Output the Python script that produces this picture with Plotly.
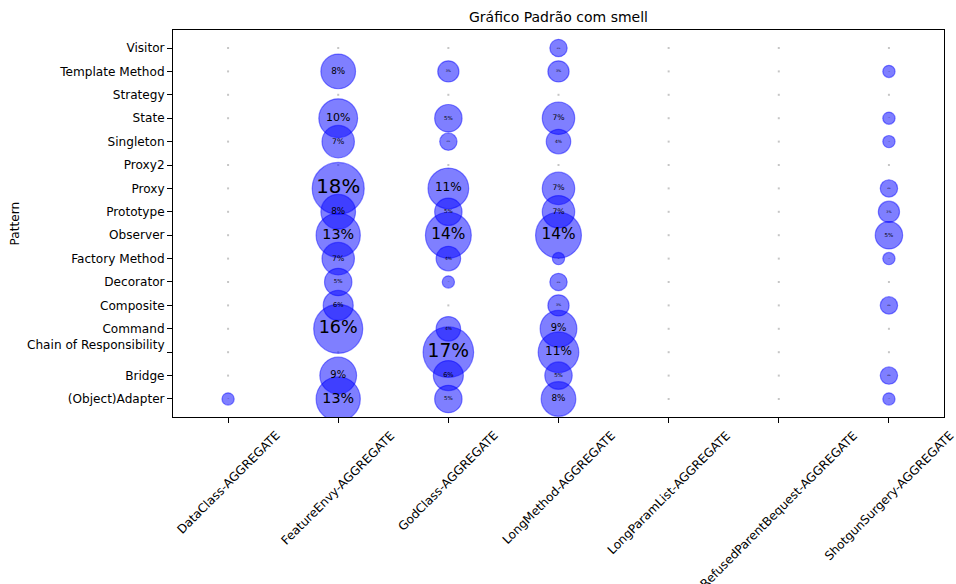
import plotly.graph_objects as go

# Code smells (columns) and design patterns (rows, bottom to top)
smells = [
    "DataClass-AGGREGATE",
    "FeatureEnvy-AGGREGATE",
    "GodClass-AGGREGATE",
    "LongMethod-AGGREGATE",
    "LongParamList-AGGREGATE",
    "RefusedParentBequest-AGGREGATE",
    "ShotgunSurgery-AGGREGATE",
]
patterns = [
    "(Object)Adapter",
    "Bridge",
    "Chain of Responsibility",
    "Command",
    "Composite",
    "Decorator",
    "Factory Method",
    "Observer",
    "Prototype",
    "Proxy",
    "Proxy2",
    "Singleton",
    "State",
    "Strategy",
    "Template Method",
    "Visitor",
]

# Percentage per pattern, one list per smell (same order as `patterns`)
data_class = [1, 0, 0, 0, 0, 0, 0, 0, 0, 0, 0, 0, 0, 0, 0, 0]
feature_envy = [13, 9, 0, 16, 6, 5, 7, 13, 8, 18, 0, 7, 10, 0, 8, 0]
god_class = [5, 6, 17, 4, 0, 1, 4, 14, 5, 11, 0, 2, 5, 0, 3, 0]
long_method = [8, 5, 11, 9, 3, 2, 1, 14, 7, 7, 0, 4, 7, 0, 3, 2]
long_param_list = [0] * 16
refused_parent_bequest = [0] * 16
shotgun_surgery = [1, 2, 0, 0, 2, 0, 1, 5, 3, 2, 0, 1, 1, 0, 1, 0]

columns = [data_class, feature_envy, god_class, long_method,
           long_param_list, refused_parent_bequest, shotgun_surgery]

xs, ys, vals = [], [], []
zx, zy = [], []
for i, col in enumerate(columns):
    for j, v in enumerate(col):
        if v > 0:
            xs.append(i)
            ys.append(j)
            vals.append(v)
        else:
            zx.append(i)
            zy.append(j)

LABEL_SIZE = 12.1

fig = go.Figure()

# empty cells: tiny marks
fig.add_trace(go.Scatter(
    x=zx, y=zy, mode="markers",
    marker=dict(size=2, color="rgba(160,160,160,0.6)", symbol="square",
                opacity=1, line=dict(width=0)),
    hoverinfo="skip", showlegend=False,
))

# bubbles: area proportional to the percentage
fig.add_trace(go.Scatter(
    x=xs, y=ys, mode="markers+text",
    marker=dict(
        size=vals, sizemode="area", sizeref=9 / 676, opacity=1,
        color="rgba(0,0,255,0.5)",
        line=dict(color="rgba(0,0,255,0.45)", width=1.2),
    ),
    text=[f"{v}%" for v in vals],
    textposition="middle center",
    textfont=dict(family="DejaVu Sans", color="black",
                  size=[max(1, v * 1.1) for v in vals]),
    showlegend=False,
))

ytext = [p if p != "Chain of Responsibility" else "Chain of Responsibility<br> "
         for p in patterns]

# rotated category labels, centred under each tick
for i, name in enumerate(smells):
    fig.add_annotation(
        x=i, y=-0.023, xref="x", yref="paper",
        text=name, textangle=-45, showarrow=False,
        xanchor="center", yanchor="top",
        font=dict(family="DejaVu Sans", size=LABEL_SIZE, color="black"),
    )

fig.add_annotation(
    x=-0.205, y=0.5, xref="paper", yref="paper",
    text="Pattern", textangle=-90, showarrow=False,
    xanchor="center", yanchor="middle",
    font=dict(family="DejaVu Sans", size=LABEL_SIZE, color="black"),
)

fig.update_layout(
    width=956, height=584,
    margin=dict(l=173, r=12, t=30, b=167),
    plot_bgcolor="white", paper_bgcolor="white",
    font=dict(family="DejaVu Sans", size=LABEL_SIZE, color="black"),
    title=dict(text="Gráfico Padrão com smell", x=(173 + 944) / 2 / 956,
               xanchor="center", y=1 - 17 / 584, yanchor="middle",
               font=dict(size=14)),
    xaxis=dict(
        range=[-0.5, 6.5], tickmode="array",
        tickvals=list(range(len(smells))), showticklabels=False,
        showgrid=False, zeroline=False, automargin=False,
        showline=True, mirror=True, linecolor="black", linewidth=1,
        ticks="outside", ticklen=5, tickcolor="black",
    ),
    yaxis=dict(
        range=[-0.77, 15.77], tickmode="array",
        tickvals=list(range(len(patterns))), ticktext=ytext,
        showgrid=False, zeroline=False, automargin=False,
        showline=True, mirror=True, linecolor="black", linewidth=1,
        ticks="outside", ticklen=5, tickcolor="black",
    ),
)

fig.write_html("out.html")
